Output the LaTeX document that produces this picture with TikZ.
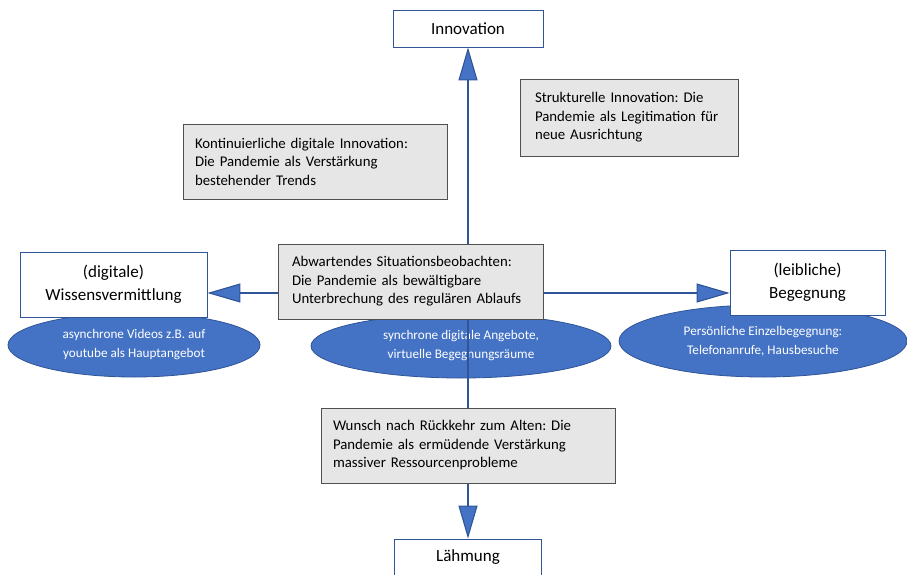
\documentclass[tikz,border=0pt]{standalone}
\usepackage{fontspec}
\setmainfont{Carlito}
\frenchspacing
\usetikzlibrary{positioning, arrows.meta, shapes.geometric}
\definecolor{axisblue}{HTML}{2F5597}
\definecolor{tipblue}{HTML}{4472C4}
\definecolor{boxgray}{HTML}{E7E6E6}
\definecolor{rimgray}{HTML}{505050}
\pgfdeclarelayer{fieldlayer}
\pgfdeclarelayer{axislayer}
\pgfsetlayers{fieldlayer,axislayer,main}
\newcommand{\polenode}[3]{\node[pole, #3] (#1) {#2};}
\newcommand{\stancenode}[3]{\node[stance, #3] (#1) {#2};}
\newcommand{\fieldnode}[3]{\node[field, #3] (#1) {#2};}
\tikzset{
  pole/.style={draw=axisblue, line width=0.8pt, fill=white, align=center, inner sep=0pt, font=\fontsize{17}{23}\selectfont},
  stance/.style={draw=rimgray, line width=0.8pt, fill=boxgray, align=left, inner ysep=0pt, font=\fontsize{14.8}{18.5}\selectfont},
  field/.style={ellipse, draw=axisblue, line width=0.8pt, fill=tipblue, text=white, align=center, inner sep=0pt, font=\fontsize{13.2}{19}\selectfont},
  bigtip/.tip={Triangle[length=33pt, width=19pt, fill=tipblue]},
  axis/.style={draw=axisblue, line width=1.1pt}
}

\begin{document}
\begin{tikzpicture}[x=1pt, y=-1pt]
\useasboundingbox (0,0) rectangle (907,575);

% the four poles
\polenode{innov}{Innovation}{at={(468,28.5)}, minimum width=150pt, minimum height=37pt};
\polenode{laehm}{Lähmung}{at={(468,557.5)}, minimum width=147pt, minimum height=37pt};
\polenode{wissen}{(digitale)\\Wissensvermittlung}{at={(113.5,284.5)}, minimum width=187pt, minimum height=65pt};
\polenode{begeg}{(leibliche)\\Begegnung}{at={(807.5,282.5)}, minimum width=155pt, minimum height=65pt};

% the stances
\stancenode{kont}{Kontinuierliche digitale Innovation:\\Die Pandemie als Verstärkung\\bestehender Trends}{at={(315,161.5)}, inner xsep=12pt, text width=240pt, minimum height=75pt};
\stancenode{struk}{Strukturelle Innovation: Die\\Pandemie als Legitimation für\\neue Ausrichtung}{at={(629,117.5)}, inner xsep=15pt, text width=188pt, minimum height=77pt};
\stancenode{abw}{Abwartendes Situationsbeobachten:\\Die Pandemie als bewältigbare\\Unterbrechung des regulären Ablaufs}{at={(410.5,281.5)}, inner xsep=14pt, text width=237pt, minimum height=75pt};
\stancenode{wunsch}{Wunsch nach Rückkehr zum Alten: Die\\Pandemie als ermüdende Verstärkung\\massiver Ressourcenprobleme}{at={(468,445.5)}, inner xsep=12pt, text width=270pt, minimum height=75pt};

% the fields behind
\begin{pgfonlayer}{fieldlayer}
\fieldnode{asyn}{asynchrone Videos z.B. auf\\youtube als Hauptangebot}{at={(134,345)}, minimum width=252pt, minimum height=64pt};
\fieldnode{syn}{synchrone digitale Angebote,\\virtuelle Begegnungsräume}{at={(461,346)}, minimum width=300pt, minimum height=64pt};
\fieldnode{pers}{Persönliche Einzelbegegnung:\\Telefonanrufe, Hausbesuche}{at={(763,341)}, minimum width=288pt, minimum height=72pt};
\end{pgfonlayer}

% the axes
\coordinate (hmid) at (467,293);
\begin{pgfonlayer}{axislayer}
\draw[axis, bigtip-bigtip] (innov.south) -- (laehm.north);
\draw[axis, bigtip-bigtip] (wissen.east |- hmid) -- (begeg.west |- hmid);
\end{pgfonlayer}
\end{tikzpicture}
\end{document}
